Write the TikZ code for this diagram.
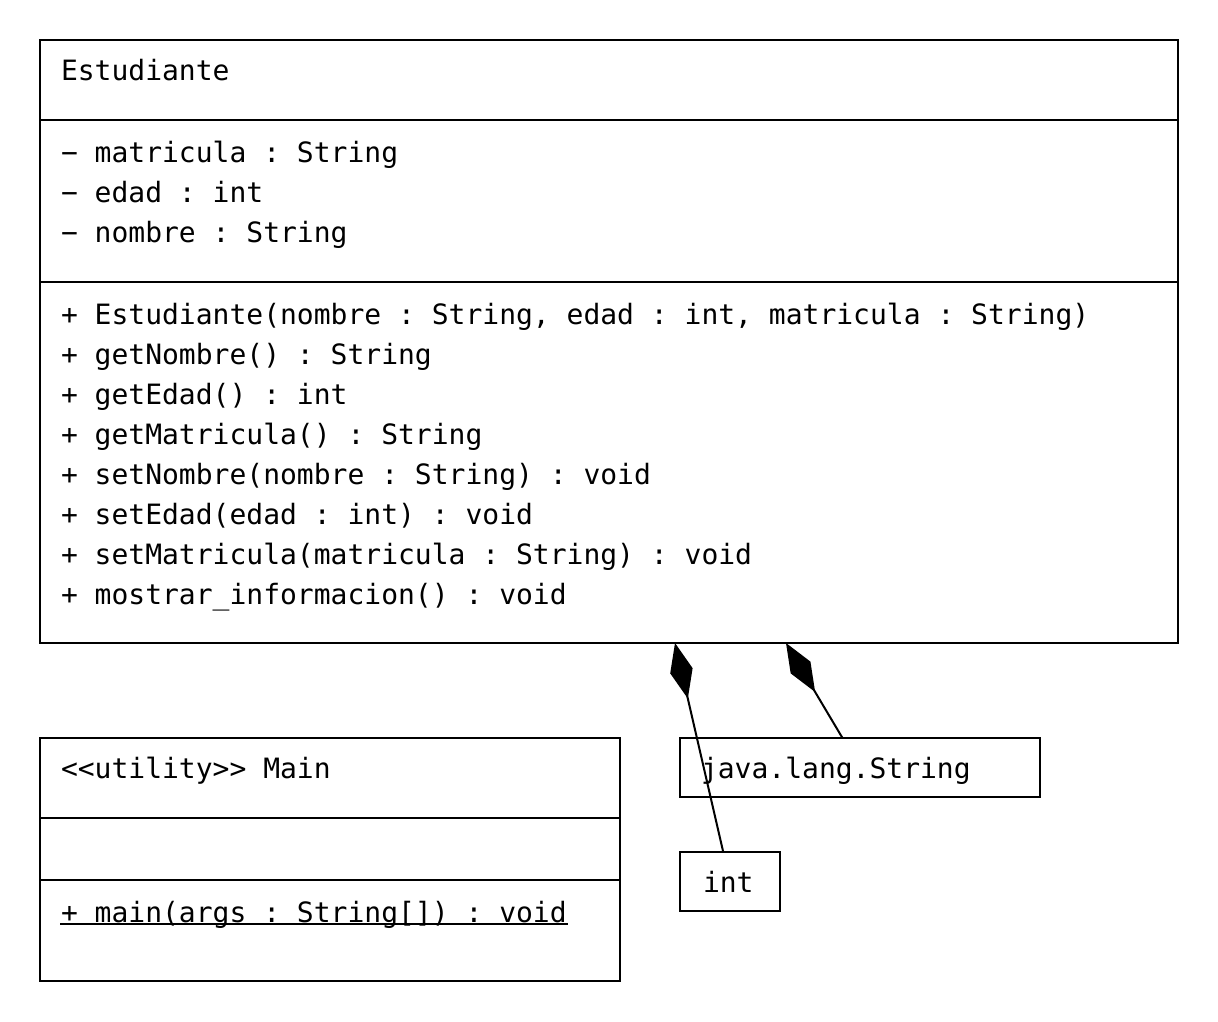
\documentclass[tikz,border=0pt]{standalone}
\usepackage{fontspec}
\setmonofont{DejaVu Sans Mono}
\usetikzlibrary{arrows.meta}
\begin{document}
\begin{tikzpicture}[x=1pt,y=-1pt,line width=2pt,
  txt/.style={anchor=base west,inner sep=0pt,font=\ttfamily\fontsize{28}{40}\selectfont},
  box/.style={draw,rectangle,inner sep=0pt,outer sep=0pt,anchor=north west},
  comp/.style={-{Diamond[length=57pt,width=23pt,fill=black]}}]
\useasboundingbox (0,0) rectangle (1218,1022);

% class Estudiante
\node[box,minimum width=1138pt,minimum height=603pt] (est) at (40,40) {};
\draw (40,120) -- (1178,120);
\draw (40,282) -- (1178,282);
\node[txt] (estname) at (60,81) {Estudiante};
\node[txt] (a1) at (60,162) {− matricula : String};
\node[txt] (a2) at (60,202) {− edad : int};
\node[txt] (a3) at (60,242) {− nombre : String};
\node[txt] (m1) at (60,324) {+ Estudiante(nombre : String, edad : int, matricula : String)};
\node[txt] (m2) at (60,364) {+ getNombre() : String};
\node[txt] (m3) at (60,404) {+ getEdad() : int};
\node[txt] (m4) at (60,444) {+ getMatricula() : String};
\node[txt] (m5) at (60,484) {+ setNombre(nombre : String) : void};
\node[txt] (m6) at (60,524) {+ setEdad(edad : int) : void};
\node[txt] (m7) at (60,564) {+ setMatricula(matricula : String) : void};
\node[txt] (m8) at (60,604) {+ mostrar\_informacion() : void};

% class Main
\node[box,minimum width=580pt,minimum height=243pt] (main) at (40,738) {};
\draw (40,818) -- (620,818);
\draw (40,880) -- (620,880);
\node[txt] (mainname) at (60,778) {<<utility>> Main};
\node[txt] (mainop) at (60,922) {+ main(args : String[]) : void};
\draw[line width=1.6pt] ([yshift=-2pt]mainop.base west) -- ([yshift=-2pt]mainop.base east);

% type boxes
\node[box,minimum width=360pt,minimum height=59pt] (str) at (680,738) {};
\node[txt] (strname) at (700,778) {java.lang.String};
\node[box,minimum width=100pt,minimum height=59pt] (int) at (680,852) {};
\node[txt] (intname) at (702,892) {int};

% compositions
\coordinate (c1) at (675,643);
\coordinate (c2) at (786,643);
\draw[comp] (int) -- (c1);
\draw[comp] (str) -- (c2);
\end{tikzpicture}
\end{document}
